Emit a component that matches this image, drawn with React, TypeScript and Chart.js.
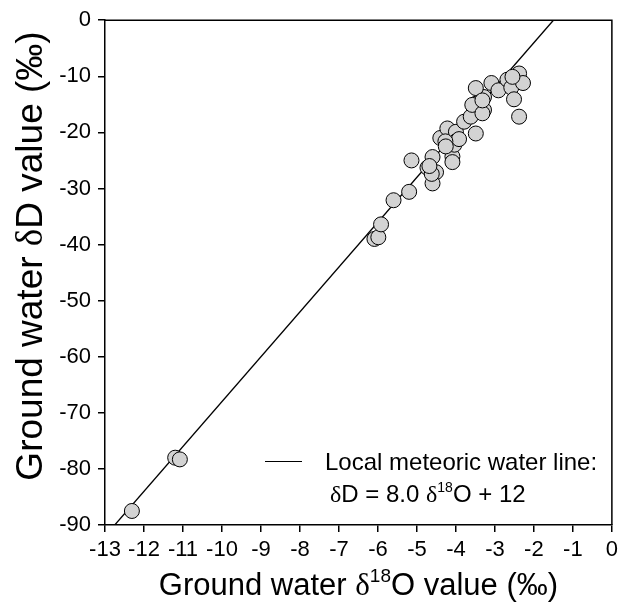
import React, { useEffect, useRef } from "react";
import { Chart, registerables } from "chart.js";

Chart.register(...registerables);

// Sample data: ground water δ18O (x) and δD (y), ‰
const d18O = [
  -12.31, -11.2, -11.08, -6.09, -5.99, -5.92, -5.6, -5.2, -5.14, -4.73,
  -4.6, -4.51, -4.6, -4.62, -4.68, -4.09, -4.09, -4.4, -4.22, -4.0,
  -4.0, -4.04, -3.92, -4.27, -4.26, -3.79, -3.49, -3.62, -3.49, -3.28,
  -3.28, -3.58, -3.49, -3.09, -2.91, -2.68, -2.58, -2.51, -2.38, -2.38,
  -2.28, -2.55, -3.32, -3.32,
];
const dD = [
  -87.5, -78.0, -78.3, -39.0, -38.7, -36.4, -32.1, -30.6, -25.0, -26.3,
  -24.4, -27.1, -29.1, -27.4, -26.0, -24.3, -25.3, -21.0, -19.3, -19.9,
  -21.6, -22.2, -21.2, -21.6, -22.5, -18.1, -20.2, -17.2, -14.9, -16.0,
  -13.7, -15.1, -12.1, -11.2, -12.5, -10.6, -12.0, -14.1, -17.2, -9.5,
  -11.2, -10.1, -16.6, -14.3,
];

// Local meteoric water line: δD = 8.0 δ18O + 12
const lmwlSlope = 8.0;
const lmwlIntercept = 12;
const lineYEnds = [-90, 0];

const xTicks = [-13, 0, 1];
const yTicks = [-90, 0, 10];

const FONT = "'Liberation Sans', Arial, sans-serif";
const SERIF = "'Liberation Serif', 'DejaVu Serif', serif";

function drawRuns(ctx: CanvasRenderingContext2D, runs: { t: string; f: string; dy?: number }[], x: number, y: number) {
  let cx = x;
  for (const r of runs) {
    ctx.font = r.f;
    ctx.fillText(r.t, cx, y + (r.dy || 0));
    cx += ctx.measureText(r.t).width;
  }
  return cx - x;
}
function measureRuns(ctx: CanvasRenderingContext2D, runs: { t: string; f: string }[]) {
  let w = 0;
  for (const r of runs) {
    ctx.font = r.f;
    w += ctx.measureText(r.t).width;
  }
  return w;
}

const decorPlugin = {
  id: "decor",
  afterDraw(chart: any) {
    const ctx: CanvasRenderingContext2D = chart.ctx;
    const a = chart.chartArea;
    ctx.save();
    // frame top/right
    ctx.strokeStyle = "#000";
    ctx.lineWidth = 1.5;
    ctx.beginPath();
    ctx.moveTo(a.left, a.top);
    ctx.lineTo(a.right, a.top);
    ctx.lineTo(a.right, a.bottom);
    ctx.stroke();

    ctx.fillStyle = "#000";
    ctx.textBaseline = "alphabetic";
    ctx.textAlign = "left";

    // x title
    const tf = `31px ${FONT}`;
    const xRuns = [
      { t: "Ground water ", f: tf },
      { t: "δ", f: `31px ${SERIF}` },
      { t: "18", f: `19px ${FONT}`, dy: -13 },
      { t: "O value (‰)", f: tf },
    ];
    const xw = measureRuns(ctx, xRuns);
    drawRuns(ctx, xRuns, (a.left + a.right) / 2 - xw / 2, 595);

    // y title
    const yf = `37px ${FONT}`;
    const yRuns = [
      { t: "Ground water ", f: yf },
      { t: "δ", f: `37px ${SERIF}` },
      { t: "D value (‰)", f: yf },
    ];
    const yw = measureRuns(ctx, yRuns);
    ctx.save();
    ctx.translate(42, 256);
    ctx.rotate(-Math.PI / 2);
    drawRuns(ctx, yRuns, -yw / 2, 0);
    ctx.restore();

    // legend
    ctx.lineWidth = 1;
    ctx.beginPath();
    ctx.moveTo(265, 461.5);
    ctx.lineTo(302, 461.5);
    ctx.stroke();
    const lf = `24px ${FONT}`;
    drawRuns(ctx, [{ t: "Local meteoric water line:", f: lf }], 325, 470);
    drawRuns(
      ctx,
      [
        { t: "δ", f: `24px ${SERIF}` },
        { t: "D = 8.0 ", f: lf },
        { t: "δ", f: `24px ${SERIF}` },
        { t: "18", f: `14px ${FONT}`, dy: -10 },
        { t: "O + 12", f: lf },
      ],
      330,
      502
    );
    ctx.restore();
  },
};

export default function App() {
  const ref = useRef<HTMLCanvasElement | null>(null);
  useEffect(() => {
    document.body.style.margin = "0";
    if (!ref.current) return;
    const pts = d18O.map((x, i) => ({ x, y: dD[i] }));
    const linePts = lineYEnds.map((y) => ({ x: (y - lmwlIntercept) / lmwlSlope, y }));
    const tickFont = { family: FONT, size: 22 };
    const chart = new Chart(ref.current, {
      type: "scatter",
      data: {
        datasets: [
          {
            label: "samples",
            data: pts,
            backgroundColor: "#d3d3d3",
            borderColor: "#000",
            borderWidth: 1,
            pointRadius: 7.5,
            order: 0,
          },
          {
            type: "line",
            label: "LMWL",
            data: linePts,
            borderColor: "#000",
            borderWidth: 1.3,
            pointRadius: 0,
            fill: false,
            order: 1,
          } as any,
        ],
      },
      options: {
        responsive: false,
        animation: false,
        layout: { padding: { top: 16, right: 10, left: 0, bottom: 0 } },
        plugins: { legend: { display: false }, tooltip: { enabled: false } },
        scales: {
          x: {
            type: "linear",
            min: xTicks[0],
            max: xTicks[1],
            ticks: { stepSize: xTicks[2], color: "#000", font: tickFont, padding: 5 },
            grid: { drawOnChartArea: false, drawTicks: true, tickLength: 7, color: "#000", lineWidth: 1.5 },
            border: { color: "#000", width: 1.5 },
            afterFit: (s: any) => {
              s.height = 90;
            },
          },
          y: {
            type: "linear",
            min: yTicks[0],
            max: yTicks[1],
            ticks: { stepSize: yTicks[2], color: "#000", font: tickFont, padding: 7 },
            grid: { drawOnChartArea: false, drawTicks: true, tickLength: 7, color: "#000", lineWidth: 1.5 },
            border: { color: "#000", width: 1.5 },
            afterFit: (s: any) => {
              s.width = 105;
            },
          },
        },
      },
      plugins: [decorPlugin],
    });
    return () => chart.destroy();
  }, []);
  return (
    <div style={{ width: 623, height: 615 }}>
      <canvas ref={ref} width={623} height={615} style={{ display: "block" }} />
    </div>
  );
}
